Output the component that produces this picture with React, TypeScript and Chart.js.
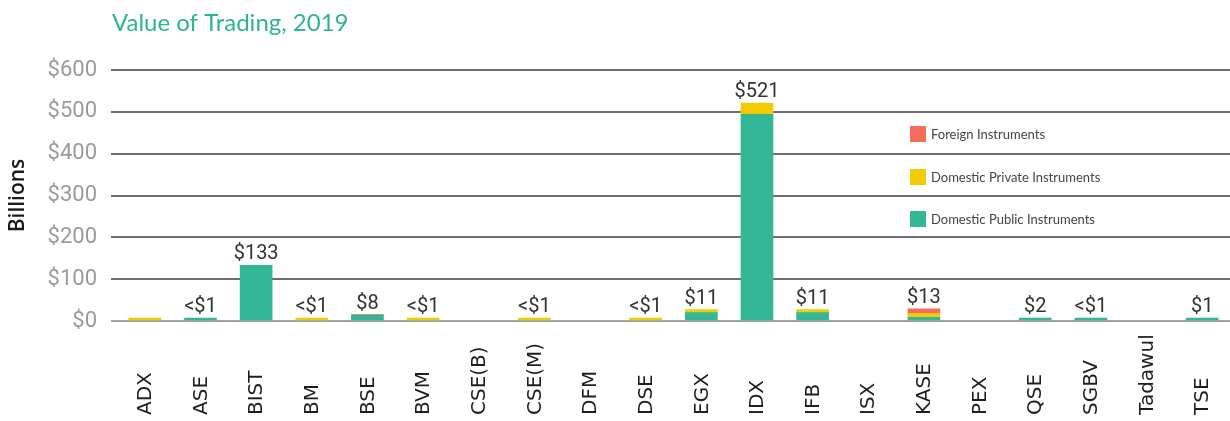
import React, { useEffect, useRef } from "react";
import { Chart, registerables } from "chart.js";

Chart.register(...registerables);

const categories = ["ADX", "ASE", "BIST", "BM", "BSE", "BVM", "CSE(B)", "CSE(M)", "DFM", "DSE", "EGX", "IDX", "IFB", "ISX", "KASE", "PEX", "QSE", "SGBV", "Tadawul", "TSE"];
const domesticPublic = [null, 0.5, 133, null, 14, null, null, null, null, null, 20, 494, 20, null, 9, null, 2, 0.5, null, 1];
const domesticPrivate = [0.5, null, null, 0.5, null, 0.5, null, 0.5, null, 0.5, 6, 27, 6, null, 9, null, null, null, null, null];
const foreign = [null, null, null, null, 1.5, null, null, null, null, null, null, null, null, null, 11, null, null, null, null, null];
const valueLabels = ["", "<$1", "$133", "<$1", "$8", "<$1", "", "<$1", "", "<$1", "$11", "$521", "$11", "", "$13", "", "$2", "<$1", "", "$1"];
const yTicks = [0, 100, 200, 300, 400, 500, 600];
const titleText = "Value of Trading, 2019";
const legendItems = [
  { label: "Foreign Instruments", color: "#f26e5b" },
  { label: "Domestic Private Instruments", color: "#f3cb04" },
  { label: "Domestic Public Instruments", color: "#33b796" },
];

const TEAL = "#33b796";
const YELLOW = "#f3cb04";
const RED = "#f26e5b";

const customDraw = {
  id: "customDraw",
  afterDatasetsDraw(chart: any) {
    const ctx = chart.ctx;
    const area = chart.chartArea;
    const xScale = chart.scales.x;
    ctx.save();
    // title
    ctx.font = "24px Lato";
    ctx.fillStyle = "#2db591";
    ctx.textAlign = "left";
    ctx.textBaseline = "alphabetic";
    ctx.fillText(titleText, area.left - 5, 31);

    // value labels
    ctx.font = "20px Roboto";
    ctx.fillStyle = "#333333";
    ctx.textAlign = "center";
    ctx.textBaseline = "bottom";
    for (let i = 0; i < categories.length; i++) {
      if (!valueLabels[i]) continue;
      let top = Infinity;
      let x = xScale.getPixelForTick(i);
      chart.data.datasets.forEach((ds: any, di: number) => {
        const v = ds.data[i];
        if (v === null || v === undefined) return;
        const el = chart.getDatasetMeta(di).data[i];
        if (el) {
          const t = Math.min(el.y, el.base);
          if (t < top) top = t;
          x = el.x;
        }
      });
      if (top === Infinity) top = chart.scales.y.getPixelForValue(0);
      ctx.fillText(valueLabels[i], x, top - 1);
    }

    // x labels, rotated, aligned at bottom
    ctx.font = '20px "DejaVu Sans"';
    ctx.fillStyle = "#1e1e1e";
    ctx.textAlign = "left";
    ctx.textBaseline = "middle";
    for (let i = 0; i < categories.length; i++) {
      const x = xScale.getPixelForTick(i);
      ctx.save();
      ctx.translate(x + 1, chart.height - 6);
      ctx.rotate(-Math.PI / 2);
      ctx.fillText(categories[i], 0, 0);
      ctx.restore();
    }

    // legend
    const lx = area.left + 793;
    const ys = [134, 177, 219];
    ctx.font = "13px Lato";
    ctx.textBaseline = "middle";
    legendItems.forEach((it, k) => {
      ctx.fillStyle = it.color;
      ctx.fillRect(lx, ys[k] - 8, 16, 16);
      ctx.fillStyle = "#444444";
      ctx.fillText(it.label, lx + 21, ys[k] + 1);
    });
    ctx.restore();
  },
};

export default function App() {
  const ref = useRef<HTMLCanvasElement>(null);
  useEffect(() => {
    if (!ref.current) return;
    const chart = new Chart(ref.current, {
      type: "bar",
      data: {
        labels: categories,
        datasets: [
          { label: "Domestic Public Instruments", data: domesticPublic as any, backgroundColor: TEAL, minBarLength: 3, barThickness: 32 },
          { label: "Domestic Private Instruments", data: domesticPrivate as any, backgroundColor: YELLOW, minBarLength: 3, barThickness: 32 },
          { label: "Foreign Instruments", data: foreign as any, backgroundColor: RED, barThickness: 32 },
        ],
      },
      options: {
        animation: false,
        responsive: false,
        maintainAspectRatio: false,
        layout: { padding: { top: 70, right: 0, left: 0, bottom: 0 } },
        plugins: { legend: { display: false }, title: { display: false }, tooltip: { enabled: false } },
        scales: {
          x: {
            stacked: true,
            grid: { display: false },
            border: { display: false },
            ticks: { display: false },
            afterFit(scale: any) { scale.height = 100; },
          },
          y: {
            stacked: true,
            min: 0,
            max: 600,
            afterBuildTicks(scale: any) { scale.ticks = yTicks.map((v) => ({ value: v })); },
            afterFit(scale: any) { scale.width = 117; },
            border: { display: false },
            grid: {
              drawTicks: true,
              tickLength: 6,
              lineWidth: 2,
              color: (c: any) => (c.tick && c.tick.value === 0 ? "#a3a3a3" : "#6e6e6e"),
              tickColor: (c: any) => (c.tick && c.tick.value === 0 ? "#a3a3a3" : "#6e6e6e"),
            },
            ticks: {
              padding: 14,
              color: "#9a9a9a",
              font: { family: "Roboto", size: 22 },
              callback: (v: any) => "$" + v,
            },
            title: {
              display: true,
              text: "Billions",
              color: "#1a1a1a",
              font: { family: "Open Sans", size: 21, weight: "600" },
              padding: { top: 5, bottom: 0 },
            },
          },
        },
      },
      plugins: [customDraw],
    });
    return () => chart.destroy();
  }, []);
  return (
    <div style={{ position: "absolute", left: 0, top: 0, width: 1230, height: 421, background: "#fff" }}>
      <canvas ref={ref} width={1230} height={421} style={{ width: 1230, height: 421 }} />
    </div>
  );
}
